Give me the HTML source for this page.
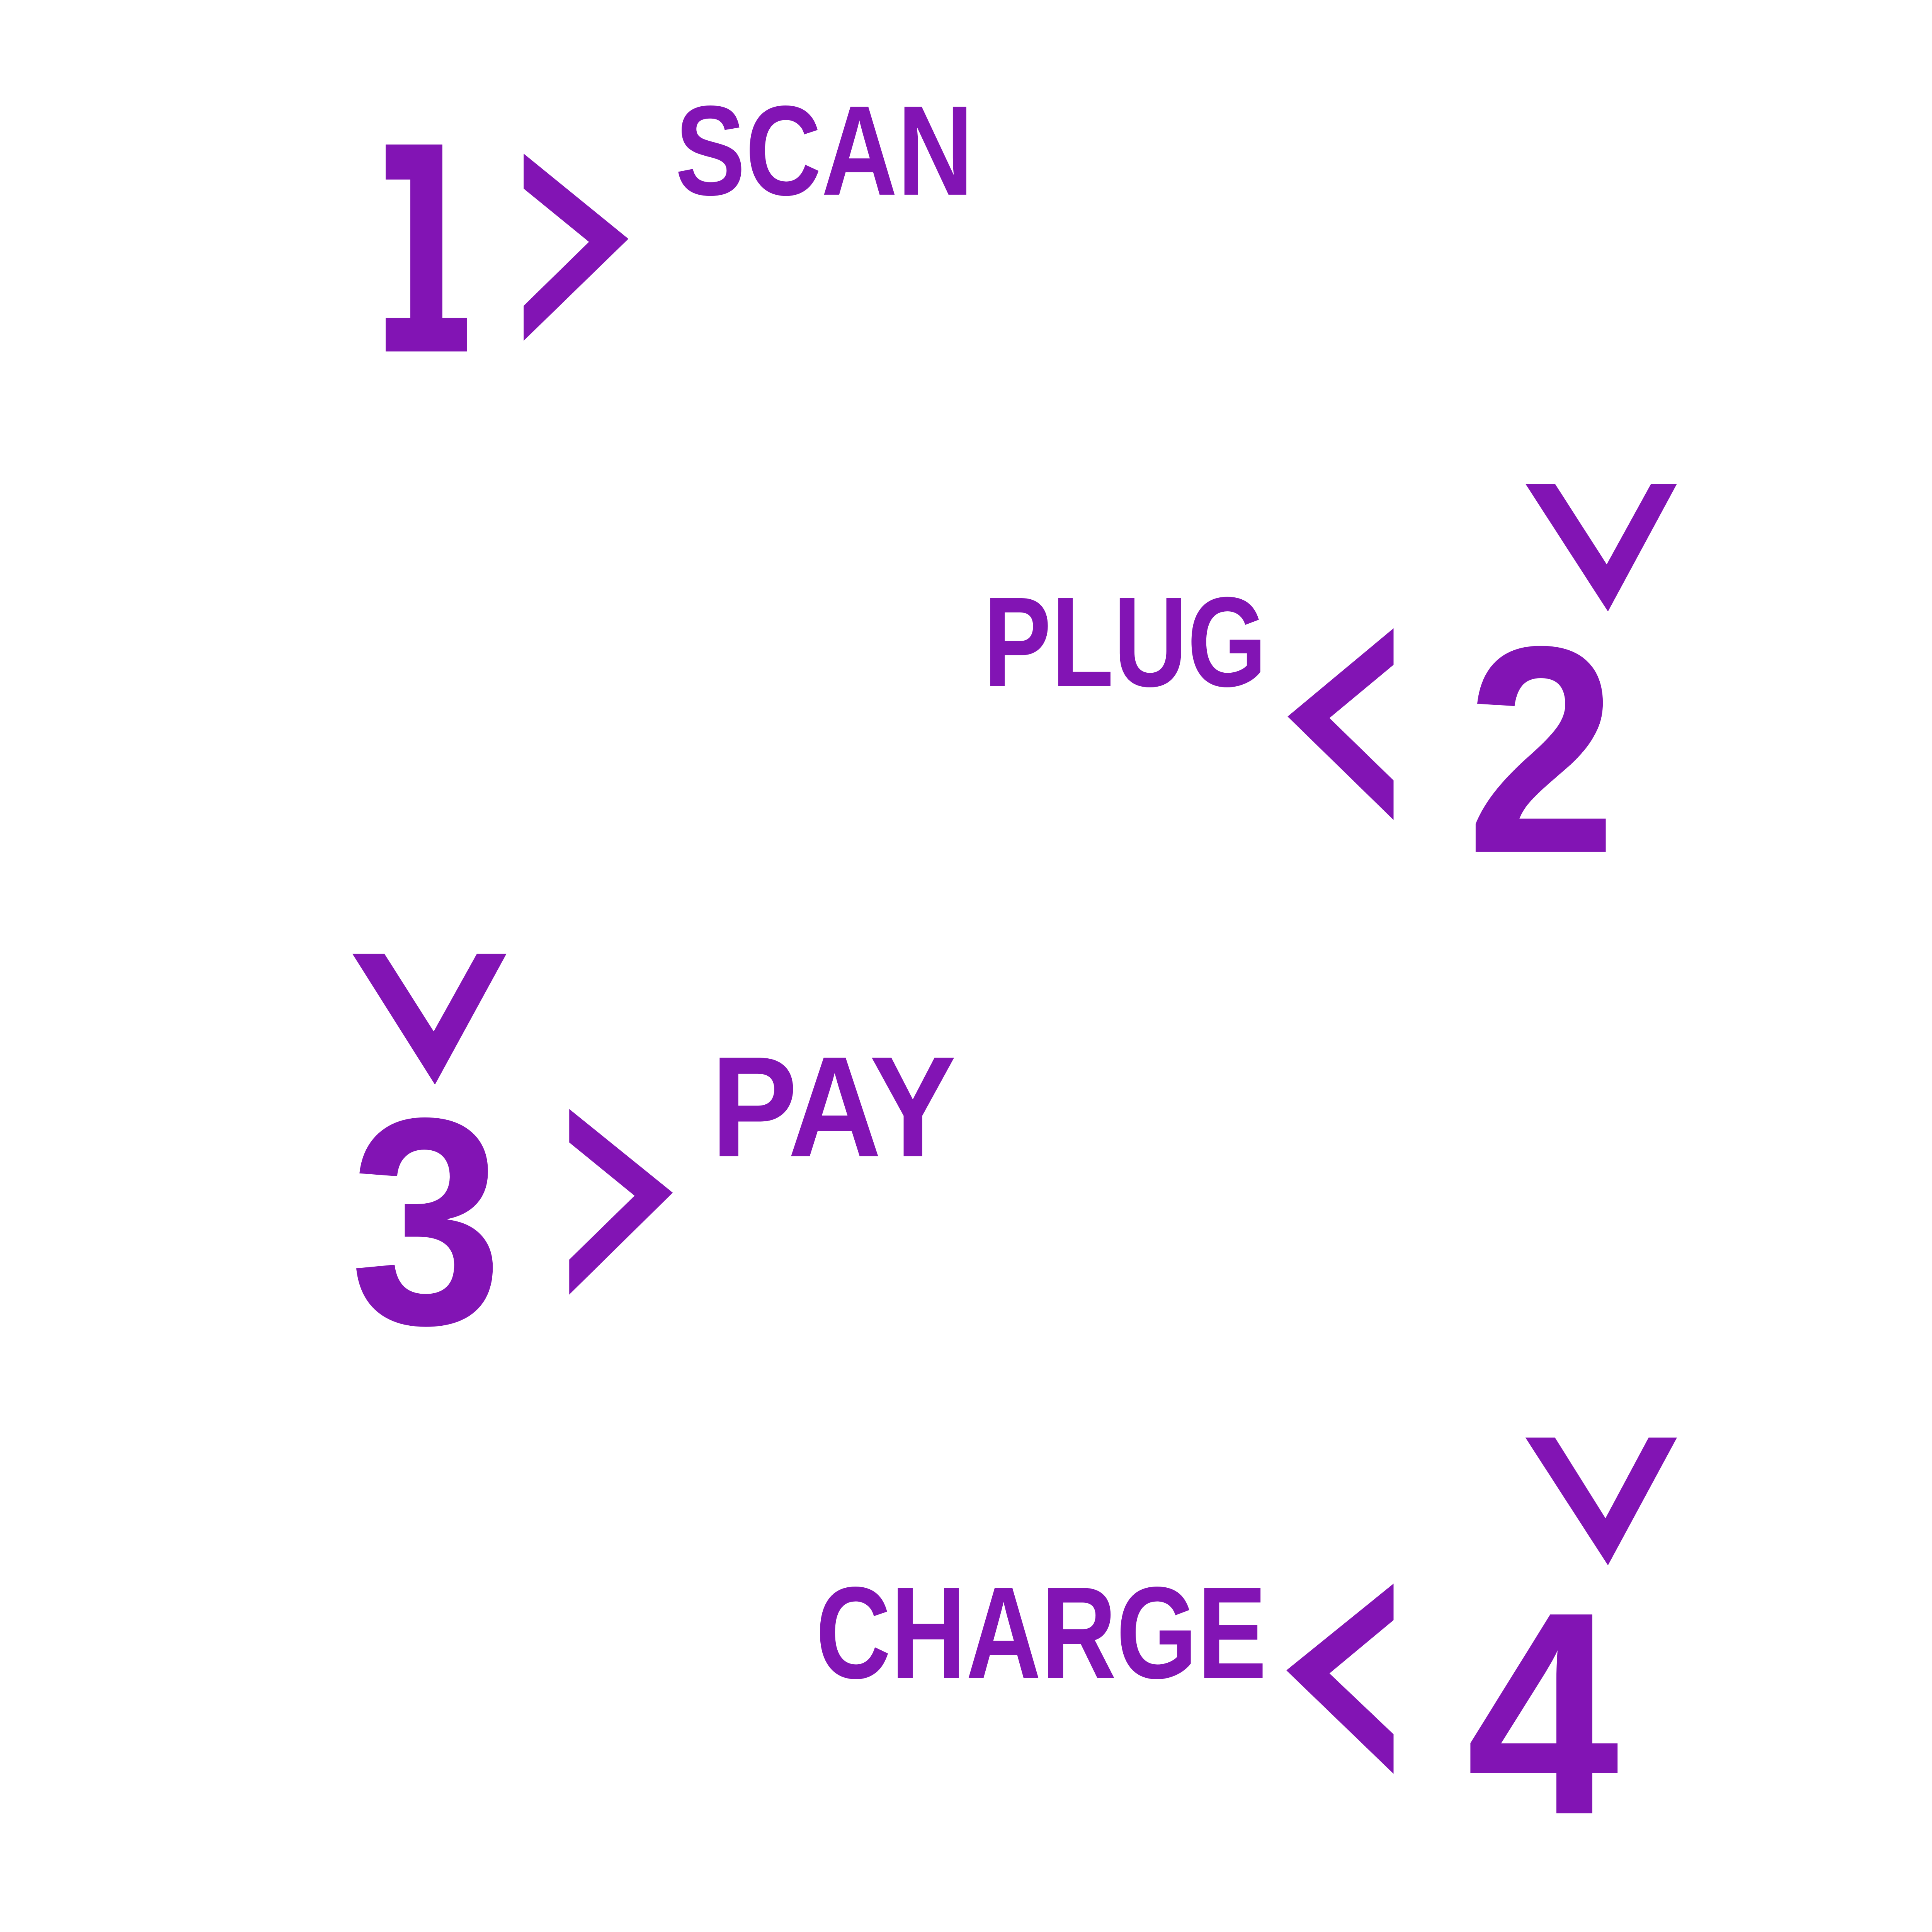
<!DOCTYPE html>
<html><head><meta charset="utf-8"><style>
html,body{margin:0;padding:0;background:#fff;width:100vw;height:100vh;overflow:hidden;}
svg{display:block;position:fixed;left:0;top:0;width:100vw;height:100vh;}
</style></head><body>
<svg viewBox="0 0 1568 1270" preserveAspectRatio="none" xmlns="http://www.w3.org/2000/svg">
<rect width="1568" height="1270" fill="#fff"/>
<g fill="#8214B4">
<path d="M313,95 H359 V209 H379 V231 H313 V209 H333 V118 H313 Z"/>
<polygon points="425,101 510,157 425,224 425,201 478,159 425,124"/>
<text x="548" y="128" font-family="Liberation Sans, sans-serif" font-weight="bold" font-size="84" textLength="242" lengthAdjust="spacingAndGlyphs">SCAN</text>

<polygon points="1238,318 1262,318 1304,371 1340,318 1361,318 1305,402"/>
<text x="798" y="451" font-family="Liberation Sans, sans-serif" font-weight="bold" font-size="84" textLength="230" lengthAdjust="spacingAndGlyphs">PLUG</text>
<polygon points="1131,413 1131,437 1079,472 1131,513 1131,539 1045,471"/>
<text x="1190" y="560" font-family="Liberation Sans, sans-serif" font-weight="bold" font-size="194" textLength="122" lengthAdjust="spacingAndGlyphs">2</text>

<polygon points="286,627 312,627 352,678 387,627 411,627 353,713"/>
<text x="284" y="870" font-family="Liberation Sans, sans-serif" font-weight="bold" font-size="194" textLength="124" lengthAdjust="spacingAndGlyphs">3</text>
<polygon points="462,729 546,784 462,851 462,828 515,786 462,751"/>
<text x="577" y="760" font-family="Liberation Sans, sans-serif" font-weight="bold" font-size="94" textLength="199" lengthAdjust="spacingAndGlyphs">PAY</text>

<polygon points="1238,945 1262,945 1303,998 1338,945 1361,945 1305,1029"/>
<text x="662" y="1103" font-family="Liberation Sans, sans-serif" font-weight="bold" font-size="86" textLength="366" lengthAdjust="spacingAndGlyphs">CHARGE</text>
<polygon points="1131,1041 1131,1065 1079,1100 1131,1140 1131,1166 1044,1098"/>
<text x="1190" y="1192" font-family="Liberation Sans, sans-serif" font-weight="bold" font-size="190" textLength="124" lengthAdjust="spacingAndGlyphs">4</text>
</g>
</svg>
</body></html>
